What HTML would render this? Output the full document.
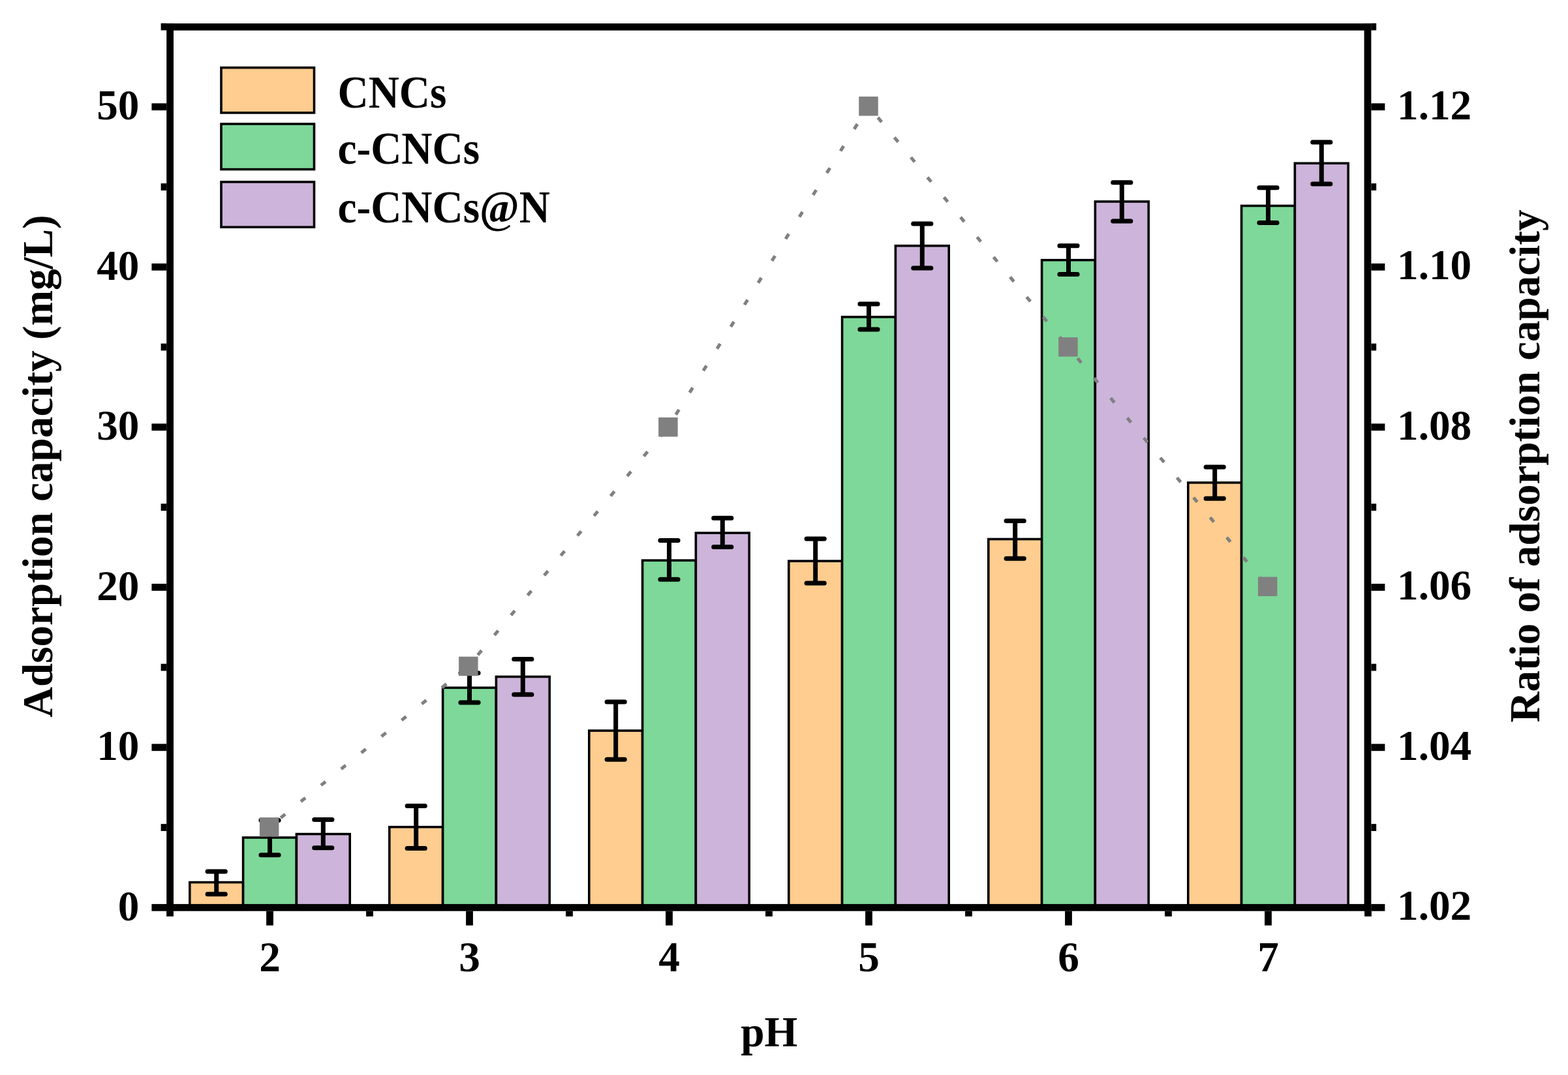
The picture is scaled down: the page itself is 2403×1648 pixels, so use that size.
<!DOCTYPE html><html><head><meta charset="utf-8"><title>Adsorption capacity vs pH</title>
<style>html,body{margin:0;padding:0;background:#fff;}svg{display:block;}text{font-family:'Liberation Serif','Times New Roman',serif;font-weight:bold;font-size:65.3px;fill:#000;}</style></head><body>
<svg width="2403" height="1648" viewBox="0 0 2403 1648">
<rect width="2403" height="1648" fill="#fff"/>
<g stroke="#000" stroke-width="3.6">
<rect x="290.80" y="1352.60" width="81.80" height="38.70" fill="#fecd8f"/>
<rect x="372.60" y="1284.00" width="81.80" height="107.30" fill="#7ed899"/>
<rect x="454.40" y="1278.60" width="81.80" height="112.70" fill="#cdb4da"/>
<rect x="596.80" y="1267.80" width="81.80" height="123.50" fill="#fecd8f"/>
<rect x="678.60" y="1054.30" width="81.80" height="337.00" fill="#7ed899"/>
<rect x="760.40" y="1037.40" width="81.80" height="353.90" fill="#cdb4da"/>
<rect x="902.80" y="1120.10" width="81.80" height="271.20" fill="#fecd8f"/>
<rect x="984.60" y="859.10" width="81.80" height="532.20" fill="#7ed899"/>
<rect x="1066.40" y="817.00" width="81.80" height="574.30" fill="#cdb4da"/>
<rect x="1208.80" y="860.10" width="81.80" height="531.20" fill="#fecd8f"/>
<rect x="1290.60" y="485.90" width="81.80" height="905.40" fill="#7ed899"/>
<rect x="1372.40" y="376.80" width="81.80" height="1014.50" fill="#cdb4da"/>
<rect x="1514.80" y="826.50" width="81.80" height="564.80" fill="#fecd8f"/>
<rect x="1596.60" y="398.70" width="81.80" height="992.60" fill="#7ed899"/>
<rect x="1678.40" y="309.00" width="81.80" height="1082.30" fill="#cdb4da"/>
<rect x="1820.80" y="739.90" width="81.80" height="651.40" fill="#fecd8f"/>
<rect x="1902.60" y="315.50" width="81.80" height="1075.80" fill="#7ed899"/>
<rect x="1984.40" y="250.30" width="81.80" height="1141.00" fill="#cdb4da"/>
</g>
<g stroke="#000" stroke-width="7" stroke-linecap="round" fill="none">
<path d="M331.70 1336.10V1370.80" stroke-linecap="butt"/>
<path d="M318.10 1336.10H345.30M318.10 1370.80H345.30"/>
<path d="M413.50 1257.40V1310.80" stroke-linecap="butt"/>
<path d="M399.90 1257.40H427.10M399.90 1310.80H427.10"/>
<path d="M495.30 1256.60V1299.70" stroke-linecap="butt"/>
<path d="M481.70 1256.60H508.90M481.70 1299.70H508.90"/>
<path d="M637.70 1235.40V1300.50" stroke-linecap="butt"/>
<path d="M624.10 1235.40H651.30M624.10 1300.50H651.30"/>
<path d="M719.50 1031.70V1076.90" stroke-linecap="butt"/>
<path d="M705.90 1031.70H733.10M705.90 1076.90H733.10"/>
<path d="M801.30 1010.60V1064.70" stroke-linecap="butt"/>
<path d="M787.70 1010.60H814.90M787.70 1064.70H814.90"/>
<path d="M943.70 1076.10V1164.30" stroke-linecap="butt"/>
<path d="M930.10 1076.10H957.30M930.10 1164.30H957.30"/>
<path d="M1025.50 828.60V888.20" stroke-linecap="butt"/>
<path d="M1011.90 828.60H1039.10M1011.90 888.20H1039.10"/>
<path d="M1107.30 794.30V838.60" stroke-linecap="butt"/>
<path d="M1093.70 794.30H1120.90M1093.70 838.60H1120.90"/>
<path d="M1249.70 825.90V894.00" stroke-linecap="butt"/>
<path d="M1236.10 825.90H1263.30M1236.10 894.00H1263.30"/>
<path d="M1331.50 466.10V505.00" stroke-linecap="butt"/>
<path d="M1317.90 466.10H1345.10M1317.90 505.00H1345.10"/>
<path d="M1413.30 342.90V411.00" stroke-linecap="butt"/>
<path d="M1399.70 342.90H1426.90M1399.70 411.00H1426.90"/>
<path d="M1555.70 798.40V856.30" stroke-linecap="butt"/>
<path d="M1542.10 798.40H1569.30M1542.10 856.30H1569.30"/>
<path d="M1637.50 376.70V420.40" stroke-linecap="butt"/>
<path d="M1623.90 376.70H1651.10M1623.90 420.40H1651.10"/>
<path d="M1719.30 279.70V339.00" stroke-linecap="butt"/>
<path d="M1705.70 279.70H1732.90M1705.70 339.00H1732.90"/>
<path d="M1861.70 715.90V764.20" stroke-linecap="butt"/>
<path d="M1848.10 715.90H1875.30M1848.10 764.20H1875.30"/>
<path d="M1943.50 287.70V341.60" stroke-linecap="butt"/>
<path d="M1929.90 287.70H1957.10M1929.90 341.60H1957.10"/>
<path d="M2025.30 218.00V282.00" stroke-linecap="butt"/>
<path d="M2011.70 218.00H2038.90M2011.70 282.00H2038.90"/>
</g>
<g stroke="#808080" stroke-width="5" stroke-linecap="butt" stroke-dasharray="9 30.7" stroke-dashoffset="17.2" fill="none">
<line x1="412.65" y1="1267.90" x2="717.85" y2="1021.40"/>
<line x1="717.85" y1="1021.40" x2="1023.90" y2="654.70"/>
<line x1="1023.90" y1="654.70" x2="1331.00" y2="162.80"/>
<line x1="1331.00" y1="162.80" x2="1636.90" y2="531.90"/>
<line x1="1636.90" y1="531.90" x2="1942.70" y2="899.20"/>
</g>
<g fill="#808080">
<rect x="397.90" y="1253.15" width="29.50" height="29.50"/>
<rect x="703.10" y="1006.65" width="29.50" height="29.50"/>
<rect x="1009.15" y="639.95" width="29.50" height="29.50"/>
<rect x="1316.25" y="148.05" width="29.50" height="29.50"/>
<rect x="1622.15" y="517.15" width="29.50" height="29.50"/>
<rect x="1927.95" y="884.45" width="29.50" height="29.50"/>
</g>
<g fill="#000">
<rect x="255.20" y="35.90" width="10.80" height="1360.80"/>
<rect x="2090.60" y="35.90" width="10.80" height="1360.80"/>
<rect x="255.20" y="35.90" width="1846.20" height="10.80"/>
<rect x="255.20" y="1385.90" width="1846.20" height="10.80"/>
<rect x="232.40" y="1385.90" width="22.80" height="10.80"/>
<rect x="2101.40" y="1385.90" width="21.00" height="10.80"/>
<rect x="246.60" y="1263.15" width="8.60" height="10.80"/>
<rect x="2101.40" y="1263.15" width="7.80" height="10.80"/>
<rect x="232.40" y="1140.40" width="22.80" height="10.80"/>
<rect x="2101.40" y="1140.40" width="21.00" height="10.80"/>
<rect x="246.60" y="1017.65" width="8.60" height="10.80"/>
<rect x="2101.40" y="1017.65" width="7.80" height="10.80"/>
<rect x="232.40" y="894.90" width="22.80" height="10.80"/>
<rect x="2101.40" y="894.90" width="21.00" height="10.80"/>
<rect x="246.60" y="772.15" width="8.60" height="10.80"/>
<rect x="2101.40" y="772.15" width="7.80" height="10.80"/>
<rect x="232.40" y="649.40" width="22.80" height="10.80"/>
<rect x="2101.40" y="649.40" width="21.00" height="10.80"/>
<rect x="246.60" y="526.65" width="8.60" height="10.80"/>
<rect x="2101.40" y="526.65" width="7.80" height="10.80"/>
<rect x="232.40" y="403.90" width="22.80" height="10.80"/>
<rect x="2101.40" y="403.90" width="21.00" height="10.80"/>
<rect x="246.60" y="281.15" width="8.60" height="10.80"/>
<rect x="2101.40" y="281.15" width="7.80" height="10.80"/>
<rect x="232.40" y="158.40" width="22.80" height="10.80"/>
<rect x="2101.40" y="158.40" width="21.00" height="10.80"/>
<rect x="246.60" y="35.65" width="8.60" height="10.80"/>
<rect x="2101.40" y="35.65" width="7.80" height="10.80"/>
<rect x="255.10" y="1396.70" width="10.80" height="8.20"/>
<rect x="408.10" y="1396.70" width="10.80" height="22.00"/>
<rect x="561.10" y="1396.70" width="10.80" height="8.20"/>
<rect x="714.10" y="1396.70" width="10.80" height="22.00"/>
<rect x="867.10" y="1396.70" width="10.80" height="8.20"/>
<rect x="1020.10" y="1396.70" width="10.80" height="22.00"/>
<rect x="1173.10" y="1396.70" width="10.80" height="8.20"/>
<rect x="1326.10" y="1396.70" width="10.80" height="22.00"/>
<rect x="1479.10" y="1396.70" width="10.80" height="8.20"/>
<rect x="1632.10" y="1396.70" width="10.80" height="22.00"/>
<rect x="1785.10" y="1396.70" width="10.80" height="8.20"/>
<rect x="1938.10" y="1396.70" width="10.80" height="22.00"/>
<rect x="2091.10" y="1396.70" width="10.80" height="8.20"/>
</g>
<text x="213.50" y="1410.70" text-anchor="end">0</text>
<text x="213.50" y="1165.20" text-anchor="end">10</text>
<text x="213.50" y="919.70" text-anchor="end">20</text>
<text x="213.50" y="674.20" text-anchor="end">30</text>
<text x="213.50" y="428.70" text-anchor="end">40</text>
<text x="213.50" y="183.20" text-anchor="end">50</text>
<text x="2141.00" y="1410.10">1.02</text>
<text x="2141.00" y="1164.60">1.04</text>
<text x="2141.00" y="919.10">1.06</text>
<text x="2141.00" y="673.60">1.08</text>
<text x="2141.00" y="428.10">1.10</text>
<text x="2141.00" y="182.60">1.12</text>
<text x="413.50" y="1489.30" text-anchor="middle">2</text>
<text x="719.50" y="1489.30" text-anchor="middle">3</text>
<text x="1025.50" y="1489.30" text-anchor="middle">4</text>
<text x="1331.50" y="1489.30" text-anchor="middle">5</text>
<text x="1637.50" y="1489.30" text-anchor="middle">6</text>
<text x="1943.50" y="1489.30" text-anchor="middle">7</text>
<text x="1178.7" y="1603.9" text-anchor="middle">pH</text>
<text transform="translate(79.5 714.7) rotate(-90) scale(0.9977 1)" text-anchor="middle">Adsorption capacity (mg/L)</text>
<text transform="translate(2359 714.5) rotate(-90) scale(0.9962 1)" text-anchor="middle">Ratio of adsorption capacity</text>
<g stroke="#000" stroke-width="3.6">
<rect x="339.0" y="103.70" width="142.5" height="69.20" fill="#fecd8f"/>
<rect x="339.0" y="190.00" width="142.5" height="69.60" fill="#7ed899"/>
<rect x="339.0" y="278.90" width="142.5" height="69.30" fill="#cdb4da"/>
</g>
<text transform="translate(517.50 165.00) scale(1 1.055)">CNCs</text>
<text transform="translate(517.50 251.00) scale(1 1.055)">c-CNCs</text>
<text transform="translate(517.50 340.60) scale(1 1.055)">c-CNCs@N</text>
</svg></body></html>
